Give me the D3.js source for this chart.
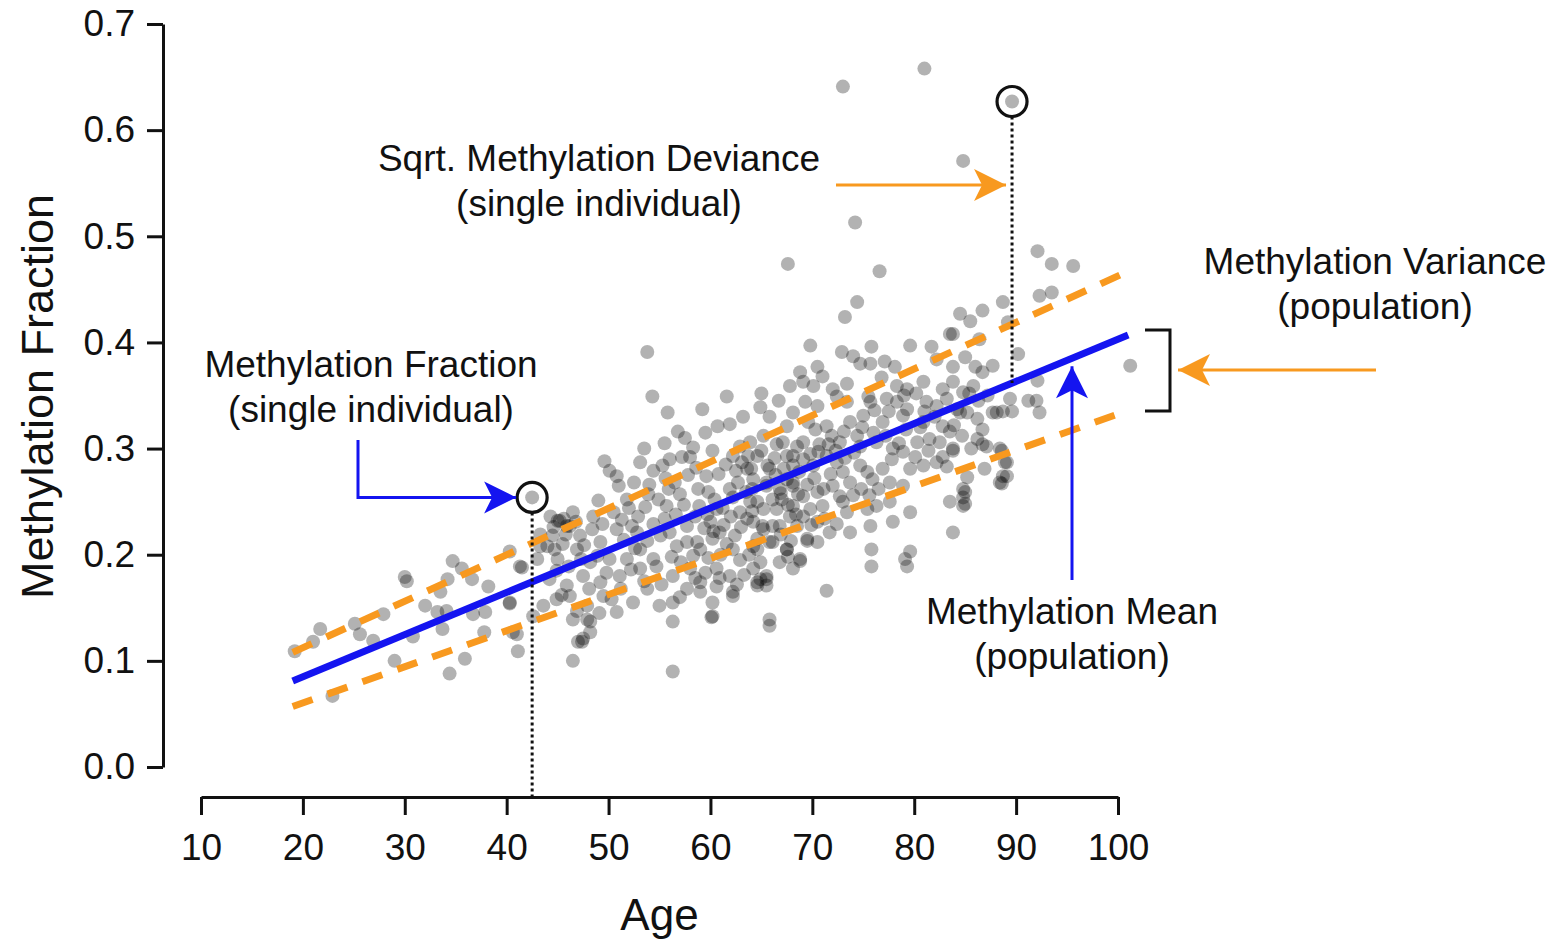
<!DOCTYPE html>
<html>
<head>
<meta charset="utf-8">
<script src="https://cdn.jsdelivr.net/npm/d3@7"></script>
<style>
  html, body { margin: 0; padding: 0; background: #fff; }
  svg { display: block; }
  text { font-family: "Liberation Sans", Arial, Helvetica, sans-serif; fill: #111; }
</style>
</head>
<body>
<svg id="chart" width="1566" height="940"></svg>
<script>
// Individual samples: [age in years, methylation fraction]
const samples = [
  [19.2,0.109],[21.0,0.118],[21.7,0.130],[25.1,0.135],[25.6,0.125],[26.9,0.119],[27.9,0.144],
  [30.0,0.179],[30.2,0.175],[29.0,0.100],[34.7,0.194],[35.6,0.187],[34.2,0.177],[36.6,0.177],
  [33.5,0.165],[38.2,0.170],[32.0,0.152],[33.2,0.146],[34.1,0.147],[33.7,0.130],[30.8,0.123],
  [36.7,0.144],[37.9,0.146],[40.3,0.203],[41.5,0.188],[40.3,0.154],[37.8,0.127],[41.0,0.125],
  [41.1,0.109],[35.9,0.102],[34.4,0.088],[22.9,0.067],[42.6,0.142],[43.3,0.219],[45.2,0.232],
  [46.2,0.227],[44.0,0.208],[44.7,0.205],[45.5,0.210],[46.5,0.100],[47.0,0.118],
  [53.8,0.391],[54.3,0.349],[55.8,0.334],[56.8,0.316],[59.2,0.337],[61.6,0.349],[60.7,0.321],
  [61.9,0.323],[64.9,0.339],[67.8,0.359],[65.8,0.330],[49.6,0.288],[53.1,0.287],[50.8,0.274],
  [50.1,0.279],[54.4,0.279],[55.3,0.284],[58.3,0.301],[57.2,0.292],[62.9,0.302],[62.2,0.293],
  [63.7,0.293],[63.6,0.281],[66.5,0.304],[65.6,0.284],[68.1,0.293],[67.5,0.271],[49.0,0.251],
  [51.8,0.252],[53.9,0.257],[55.7,0.246],[57.0,0.257],[58.8,0.262],[59.8,0.259],[60.6,0.243],
  [62.2,0.254],[62.9,0.240],[64.6,0.250],[65.5,0.265],[67.0,0.252],[68.1,0.265],[45.0,0.232],
  [45.9,0.227],[44.5,0.218],[47.2,0.218],[48.4,0.224],[49.2,0.212],[50.8,0.224],[52.3,0.227],
  [52.8,0.221],[54.4,0.229],[55.5,0.234],[56.0,0.221],[57.7,0.227],[58.5,0.236],[60.0,0.231],
  [60.9,0.221],[62.4,0.218],[63.6,0.234],[65.1,0.227],[66.1,0.227],[67.8,0.236],[43.3,0.208],
  [43.0,0.196],[45.0,0.196],[46.9,0.205],[48.2,0.193],[50.1,0.196],[51.8,0.196],[53.1,0.205],
  [54.4,0.196],[56.7,0.208],[57.7,0.212],[59.0,0.205],[60.2,0.215],[62.2,0.205],[64.2,0.208],
  [66.1,0.212],[67.5,0.205],[41.3,0.189],[44.2,0.177],[45.9,0.171],[47.5,0.180],[49.2,0.174],
  [51.1,0.180],[53.1,0.187],[54.7,0.189],[56.3,0.180],[58.0,0.187],[59.0,0.174],[60.6,0.187],
  [61.9,0.180],[64.2,0.187],[65.5,0.180],[66.8,0.193],[68.1,0.187],[40.3,0.155],[43.6,0.152],
  [44.9,0.158],[46.2,0.161],[47.9,0.152],[46.5,0.139],[48.2,0.137],[49.5,0.161],[50.8,0.146],
  [52.4,0.155],[53.8,0.168],[55.0,0.152],[56.3,0.155],[57.7,0.168],[59.0,0.165],[60.2,0.155],
  [62.2,0.165],[64.6,0.171],[65.5,0.171],[56.3,0.137],[60.2,0.142],[65.8,0.139],[65.8,0.133],
  [47.5,0.121],[40.6,0.127],[56.3,0.090],[60.1,0.141],[62.2,0.161],[60.6,0.170],[68.8,0.194],
  [69.5,0.213],[67.6,0.198],[64.9,0.177],[64.6,0.205],[47.4,0.118],[47.9,0.139],[48.2,0.127],
  [67.6,0.474],[76.6,0.467],[74.4,0.438],[73.2,0.424],[69.8,0.397],[70.5,0.377],[72.9,0.391],
  [74.0,0.387],[74.7,0.380],[75.7,0.380],[75.8,0.396],[77.1,0.382],[78.1,0.377],[79.6,0.397],
  [81.7,0.396],[83.5,0.408],[84.5,0.427],[85.5,0.420],[86.7,0.430],[88.7,0.438],[86.4,0.403],
  [85.0,0.386],[82.2,0.384],[83.8,0.377],[86.0,0.377],[86.7,0.372],[87.7,0.378],[69.1,0.363],
  [70.1,0.359],[72.0,0.356],[73.4,0.361],[76.8,0.367],[78.3,0.359],[79.3,0.356],[80.9,0.363],
  [82.8,0.356],[83.8,0.363],[84.8,0.353],[85.8,0.359],[68.1,0.334],[69.3,0.344],[70.5,0.340],
  [72.4,0.349],[73.4,0.344],[75.5,0.349],[75.7,0.344],[77.3,0.347],[78.3,0.344],[79.3,0.337],
  [81.2,0.344],[82.2,0.340],[83.2,0.347],[84.2,0.337],[85.2,0.334],[86.2,0.328],[88.1,0.334],
  [89.4,0.347],[67.5,0.321],[69.6,0.325],[71.4,0.321],[73.7,0.325],[75.0,0.331],[76.9,0.325],
  [78.9,0.331],[80.9,0.325],[82.8,0.321],[83.5,0.316],[86.7,0.318],[86.2,0.309],[87.1,0.302],
  [63.9,0.306],[65.2,0.312],[67.1,0.306],[68.5,0.302],[69.1,0.306],[70.7,0.304],[72.7,0.306],
  [74.4,0.312],[74.7,0.302],[76.3,0.306],[77.9,0.300],[78.9,0.297],[80.3,0.306],[81.5,0.309],
  [82.5,0.306],[83.8,0.300],[88.4,0.300],[89.1,0.287],[88.7,0.274],[88.4,0.268],[85.2,0.273],
  [84.8,0.262],[84.8,0.254],[83.5,0.250],[84.8,0.246],[83.8,0.221],[83.2,0.283],[64.6,0.293],
  [65.8,0.281],[67.5,0.293],[68.1,0.284],[69.1,0.290],[70.1,0.284],[71.4,0.293],[72.4,0.287],
  [73.0,0.278],[73.7,0.268],[74.7,0.284],[75.4,0.278],[75.9,0.271],[76.9,0.281],[77.6,0.268],
  [78.9,0.265],[79.6,0.281],[80.9,0.284],[82.2,0.287],[64.2,0.271],[65.5,0.268],[66.8,0.262],
  [68.1,0.268],[69.1,0.255],[70.5,0.259],[72.0,0.265],[72.7,0.255],[63.9,0.250],[65.2,0.243],
  [66.5,0.243],[68.1,0.246],[69.8,0.243],[71.0,0.246],[73.4,0.240],[75.4,0.243],[76.3,0.246],
  [77.6,0.250],[64.2,0.231],[65.2,0.224],[66.8,0.227],[68.5,0.227],[69.1,0.236],[70.5,0.231],
  [71.7,0.221],[73.7,0.221],[75.7,0.227],[77.9,0.231],[79.6,0.240],[64.6,0.215],[65.8,0.212],
  [67.5,0.205],[68.8,0.196],[64.9,0.193],[65.5,0.177],[64.6,0.174],[71.4,0.166],[75.8,0.205],
  [75.8,0.189],[79.1,0.196],[79.6,0.203],[79.3,0.189],[69.5,0.215],[70.5,0.212],
  [92.1,0.486],[93.5,0.474],[95.6,0.472],[92.3,0.444],[93.5,0.447],[89.2,0.419],[83.8,0.408],
  [90.2,0.389],[92.1,0.364],[101.2,0.378],[91.2,0.345],[92.0,0.345],[92.3,0.334],[87.7,0.334],
  [88.7,0.335],[89.6,0.335],[84.5,0.334],[86.7,0.304],[83.8,0.298],[88.6,0.298],[88.9,0.287],
  [89.1,0.274],[88.6,0.267],[86.9,0.281],[85.0,0.259],[85.0,0.248],
  [73.0,0.641],[81.0,0.658],[84.8,0.571],[74.2,0.513],
  [44.6,0.226],[45.8,0.219],[46.8,0.231],[47.6,0.209],[48.5,0.236],[49.4,0.229],[48.9,0.199],
  [47.3,0.196],[46.1,0.189],[44.9,0.185],[48.1,0.168],[49.8,0.183],[45.4,0.162],[46.9,0.147],
  [49.1,0.145],[50.3,0.158],[50.5,0.240],[51.3,0.233],[52.0,0.244],[52.9,0.236],[53.6,0.245],
  [54.9,0.252],[55.9,0.262],[56.6,0.238],[57.4,0.247],[51.5,0.214],[52.6,0.206],[53.8,0.213],
  [55.1,0.218],[56.2,0.198],[57.1,0.193],[58.3,0.199],[51.0,0.265],[52.5,0.268],[54.0,0.266],
  [55.6,0.272],[56.5,0.268],[57.8,0.275],[58.6,0.282],[59.6,0.274],[52.2,0.186],[53.5,0.175],
  [55.2,0.172],[57.0,0.160],[58.5,0.178],[51.2,0.168],[58.9,0.246],[59.7,0.238],[60.4,0.252],
  [61.2,0.244],[61.9,0.262],[62.7,0.268],[63.5,0.259],[64.1,0.262],[60.8,0.276],[61.5,0.285],
  [62.5,0.279],[63.1,0.287],[64.0,0.281],[65.0,0.298],[66.3,0.291],[59.4,0.225],[60.3,0.222],
  [61.3,0.228],[62.0,0.236],[63.0,0.226],[64.1,0.241],[58.7,0.212],[59.8,0.197],[61.0,0.200],
  [61.6,0.210],[62.9,0.195],[63.8,0.200],[59.5,0.183],[60.9,0.178],[62.6,0.172],[63.3,0.181],
  [66.1,0.252],[66.9,0.258],[67.6,0.247],[68.6,0.257],[69.5,0.266],[70.2,0.272],[71.1,0.262],
  [71.8,0.276],[66.4,0.275],[67.2,0.281],[68.7,0.278],[69.8,0.295],[70.6,0.297],[71.6,0.304],
  [72.3,0.298],[73.2,0.291],[74.1,0.296],[66.9,0.219],[67.9,0.213],[68.4,0.238],[69.9,0.228],
  [71.2,0.234],[72.4,0.229],[73.0,0.250],[74.0,0.256],[74.8,0.262],[75.6,0.256],[76.5,0.262],
  [70.3,0.318],[71.9,0.312],[73.1,0.316],[74.9,0.320],[76.0,0.315],[77.2,0.312],[77.8,0.290],
  [78.5,0.305],[79.2,0.318],[80.1,0.292],[80.6,0.320],[81.4,0.298],[82.0,0.330],[82.8,0.292],
  [83.9,0.322],[84.7,0.312],[85.6,0.300],[86.3,0.345],[87.2,0.350],[85.4,0.352],[80.2,0.352],
  [81.0,0.335],[79.0,0.350],[77.5,0.335],[76.1,0.336],[53.5,0.300],[55.5,0.305],[57.5,0.310],
  [59.5,0.315],[60.2,0.298],[56.0,0.290],[58.0,0.292],[45.6,0.234],[44.3,0.236],[46.5,0.240],
  [63.2,0.330],[65.0,0.352],[66.7,0.345],[68.8,0.372],[71.0,0.368]
];

// The two individuals singled out by the annotations
const highlighted = [[42.5, 0.254], [89.6, 0.627]];

// Population fit: mean and variance band, [age, fraction] at both ends
const meanLine  = [[19, 0.081], [101, 0.407]];
const upperBand = [[19, 0.108], [101, 0.467]];
const lowerBand = [[19, 0.057], [101, 0.336]];

const xTicks = [10, 20, 30, 40, 50, 60, 70, 80, 90, 100];
const yTicks = [0, 0.1, 0.2, 0.3, 0.4, 0.5, 0.6, 0.7];

const BLUE = "#1414f0";
const ORANGE = "#f8991f";

const svg = d3.select("#chart");

const x = d3.scaleLinear().domain([10, 100]).range([201, 1118]);
const y = d3.scaleLinear().domain([0, 0.7]).range([767, 24]);

// Axes, drawn detached from each other
const yAxisG = svg.append("g")
  .attr("transform", "translate(163,0)")
  .call(d3.axisLeft(y).tickValues(yTicks).tickFormat(d3.format(".1f"))
    .tickSize(16).tickSizeOuter(0).tickPadding(12));
const xAxisG = svg.append("g")
  .attr("transform", "translate(0,797)")
  .call(d3.axisBottom(x).tickValues(xTicks).tickFormat(d3.format("d"))
    .tickSize(18).tickSizeOuter(0).tickPadding(19));
[yAxisG, xAxisG].forEach(g => {
  g.select(".domain").attr("stroke", "#111").attr("stroke-width", 3);
  g.selectAll(".tick line").attr("stroke", "#111").attr("stroke-width", 3);
  g.selectAll(".tick text").attr("font-size", 37).attr("fill", "#111")
    .style("font-family", "'Liberation Sans', Arial, sans-serif");
});

svg.append("text")
  .attr("transform", `translate(53,${(y(0) + y(0.7)) / 2 + 1}) rotate(-90)`)
  .attr("text-anchor", "middle")
  .attr("font-size", 45)
  .text("Methylation Fraction");
svg.append("text")
  .attr("x", (x(10) + x(100)) / 2 + 0)
  .attr("y", 930)
  .attr("text-anchor", "middle")
  .attr("font-size", 44)
  .text("Age");

// Sample points
svg.append("g").selectAll("circle")
  .data(samples.concat(highlighted))
  .join("circle")
  .attr("cx", d => x(d[0]))
  .attr("cy", d => y(d[1]))
  .attr("r", 7)
  .attr("fill", "#000")
  .attr("fill-opacity", 0.3);

// Mean line and variance band
const line = d3.line().x(d => x(d[0])).y(d => y(d[1]));
[upperBand, lowerBand].forEach(b => {
  svg.append("path").attr("d", line(b))
    .attr("fill", "none").attr("stroke", ORANGE)
    .attr("stroke-width", 7).attr("stroke-dasharray", "21,16");
});
svg.append("path").attr("d", line(meanLine))
  .attr("fill", "none").attr("stroke", BLUE).attr("stroke-width", 7);

// Mean value at a given age
const meanAt = a => d3.scaleLinear().domain(meanLine.map(d => d[0])).range(meanLine.map(d => d[1]))(a);

// Dotted guides from the singled-out individuals
const [p1, p2] = highlighted;
svg.append("line")
  .attr("x1", x(p1[0])).attr("x2", x(p1[0]))
  .attr("y1", y(p1[1]) + 15).attr("y2", 797)
  .attr("stroke", "#111").attr("stroke-width", 3).attr("stroke-dasharray", "3,3");
svg.append("line")
  .attr("x1", x(p2[0])).attr("x2", x(p2[0]))
  .attr("y1", y(p2[1]) + 15).attr("y2", y(meanAt(p2[0])))
  .attr("stroke", "#111").attr("stroke-width", 3).attr("stroke-dasharray", "3,3");
svg.append("g").selectAll("circle")
  .data(highlighted)
  .join("circle")
  .attr("cx", d => x(d[0])).attr("cy", d => y(d[1]))
  .attr("r", 15).attr("fill", "none")
  .attr("stroke", "#111").attr("stroke-width", 3.2);

// Arrow helper: shaft plus a notched, filled head at the tip
function arrow(points, color) {
  svg.append("path")
    .attr("d", d3.line()(points))
    .attr("fill", "none").attr("stroke", color).attr("stroke-width", 3);
  const [tx, ty] = points[points.length - 1];
  const [px, py] = points[points.length - 2];
  const ang = Math.atan2(ty - py, tx - px) * 180 / Math.PI;
  svg.append("path")
    .attr("d", "M0,0 L-32,-16 L-24,0 L-32,16 Z")
    .attr("transform", `translate(${tx},${ty}) rotate(${ang})`)
    .attr("fill", color);
}

const xA = x(p1[0]) - 16, yA = y(p1[1]);
arrow([[358, 440], [358, yA], [xA, yA]], BLUE);
arrow([[836, 185], [x(p2[0]) - 6, 185]], ORANGE);
arrow([[1376, 370], [1178, 370]], ORANGE);
arrow([[1072, 580], [1072, y(meanAt(x.invert(1072))) + 8]], BLUE);

// Bracket spanning the variance band
svg.append("path")
  .attr("d", "M1145,330 H1170 V411 H1145")
  .attr("fill", "none").attr("stroke", "#111").attr("stroke-width", 3);

// Annotation labels
const notes = [
  { cx: 371, y: 377, lines: ["Methylation Fraction", "(single individual)"] },
  { cx: 599, y: 171, lines: ["Sqrt. Methylation Deviance", "(single individual)"] },
  { cx: 1375, y: 274, lines: ["Methylation Variance", "(population)"] },
  { cx: 1072, y: 624, lines: ["Methylation Mean", "(population)"] }
];
notes.forEach(n => {
  n.lines.forEach((t, i) => {
    svg.append("text")
      .attr("x", n.cx).attr("y", n.y + i * 45)
      .attr("text-anchor", "middle")
      .attr("font-size", 37)
      .text(t);
  });
});
</script>
</body>
</html>
